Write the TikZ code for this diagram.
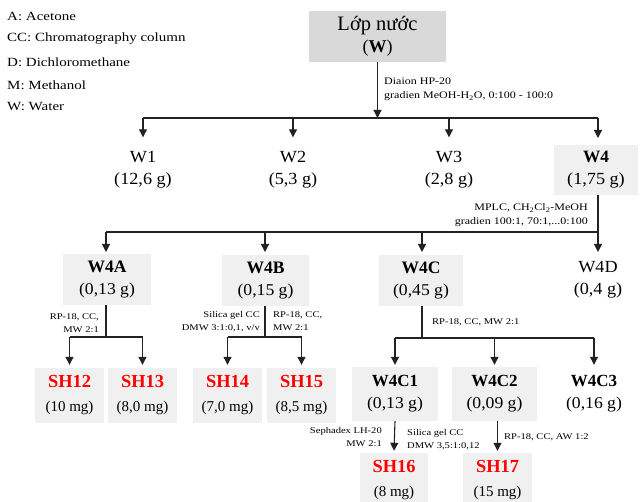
\documentclass[tikz,border=0pt]{standalone}
\usepackage{fontspec}
\setmainfont{Liberation Serif}[FakeStretch=1.2]
\newfontfamily\midf{Liberation Serif}[FakeStretch=1.07]
\newfontfamily\unf{Liberation Serif}
\usetikzlibrary{arrows.meta}
\definecolor{boxgray}{HTML}{F0F0F0}
\definecolor{topgray}{HTML}{D9D9D9}
\definecolor{linec}{HTML}{222222}
\newcommand{\hdA}[1]{{\unf\bfseries\fontsize{17.5}{22}\selectfont #1}}
\newcommand{\hdSH}[1]{{\unf\bfseries\fontsize{18.4}{24}\selectfont\color{red}#1}}
\begin{document}
\begin{tikzpicture}[x=1pt,y=-1pt,
  box/.style={fill=boxgray, inner sep=0pt, align=center, minimum width=#1, minimum height=51pt, font=\midf\fontsize{16.5}{22}\selectfont},
  box/.default=86pt,
  shbox/.style={fill=boxgray, inner sep=0pt, align=center, minimum width=69pt, minimum height=55pt, font=\unf\fontsize{15}{24}\selectfont},
  plain/.style={inner sep=0pt, align=center, minimum width=80pt, minimum height=51pt, font=\midf\fontsize{17}{22}\selectfont},
  lbl/.style={inner sep=0pt, font=\fontsize{10}{13}\selectfont},
  slbl/.style={inner sep=0pt, font=\fontsize{8.8}{13}\selectfont},
  leg/.style={inner sep=0pt, anchor=west, font=\fontsize{12.5}{15}\selectfont},
  ln/.style={draw=linec, line width=1.1pt},
  arr/.style={draw=linec, line width=1.1pt, -{Triangle[width=8pt,length=8pt]}}
]
\useasboundingbox (0,0) rectangle (640,502);
% legend
\node[leg] (l1) at (7,16) {A: Acetone};
\node[leg] (l2) at (7,39) {CC: Chromatography column};
\node[leg] (l3) at (7,62) {D: Dichloromethane};
\node[leg] (l4) at (7,85) {M: Methanol};
\node[leg] (l5) at (7,107) {W: Water};
% top
\node[fill=topgray, inner sep=0pt, align=center, minimum width=137pt, minimum height=51pt, font=\unf\fontsize{20.5}{22}\selectfont] (top) at (377.5,36.5) {Lớp nước\\[0pt]{\fontsize{18}{22}\selectfont(\textbf{W})}};
\coordinate (b1) at (377.5,118);
\draw[arr] (top.south) -- (b1);
\node[lbl, anchor=west, align=left] (lab1) at (384,89.5) {Diaion HP-20\\[1pt]gradien MeOH-H\textsubscript{2}O, 0:100 - 100:0};
% level 1
\node[plain] (W1) at (143,170) {W1\\(12,6 g)};
\node[plain] (W2) at (293,170) {W2\\(5,3 g)};
\node[plain] (W3) at (449,170) {W3\\(2,8 g)};
\node[box=84pt, minimum height=50pt, font=\midf\fontsize{17}{22}\selectfont] (W4) at (596,170) {{\unf\bfseries\fontsize{17.3}{22}\selectfont W4}\\(1,75 g)};
\draw[ln] (W1.center |- b1) -- (598,118);
\draw[arr] (W1.center |- b1) -- ([yshift=7pt]W1.north);
\draw[arr] (W2.center |- b1) -- ([yshift=7pt]W2.north);
\draw[arr] (W3.center |- b1) -- ([yshift=7pt]W3.north);
\coordinate (w4top) at (598,118);
\draw[arr] (w4top) -- (598,138);
% level 2
\coordinate (b2) at (598,232);
\draw[ln] ([xshift=2pt]W4.south) -- (b2);
\node[box=88pt] (W4A) at (107,279.5) {\hdA{W4A}\\(0,13 g)};
\node[box=87pt] (W4B) at (265.5,280.5) {\hdA{W4B}\\(0,15 g)};
\node[box=84pt] (W4C) at (421,280.5) {\hdA{W4C}\\(0,45 g)};
\node[plain] (W4D) at (598,279.5) {W4D\\(0,4 g)};
\node[lbl, anchor=east, align=right] (lab2) at (588,215) {MPLC, CH\textsubscript{2}Cl\textsubscript{2}-MeOH\\[0.5pt]gradien 100:1, 70:1,...0:100};
\draw[ln] (106,232) -- (b2);
\draw[arr] (106,232) -- (106,252);
\draw[arr] (265,232) -- (265,252);
\draw[arr] (422,232) -- (422,252);
\draw[arr] (b2) -- (598,252);
% W4A branch
\node[shbox] (SH12) at (69.5,395.5) {\hdSH{SH12}\\(10 mg)};
\node[shbox] (SH13) at (142.5,395.5) {\hdSH{SH13}\\(8,0 mg)};
\coordinate (ba) at (106,337);
\draw[ln] (W4A.south -| ba) -- (ba);
\draw[ln] (SH12.center |- ba) -- (SH13.center |- ba);
\draw[arr] (SH12.center |- ba) -- ([yshift=3pt]SH12.north);
\draw[arr] (SH13.center |- ba) -- ([yshift=3pt]SH13.north);
\node[slbl, anchor=east, align=right] (lab3) at (99,323.5) {RP-18, CC,\\MW 2:1};
% W4B branch
\node[shbox] (SH14) at (227.5,395.5) {\hdSH{SH14}\\(7,0 mg)};
\node[shbox] (SH15) at (301.5,395.5) {\hdSH{SH15}\\(8,5 mg)};
\coordinate (bb) at (265,337);
\draw[ln] (W4B.south -| bb) -- (bb);
\draw[ln] (SH14.center |- bb) -- (SH15.center |- bb);
\draw[arr] (SH14.center |- bb) -- ([yshift=3pt]SH14.north);
\draw[arr] (SH15.center |- bb) -- ([yshift=3pt]SH15.north);
\node[slbl, anchor=east, align=right] (lab4) at (260,321.5) {Silica gel CC\\DMW 3:1:0,1, v/v};
\node[slbl, anchor=west, align=left] (lab5) at (273,321.5) {RP-18, CC,\\MW 2:1};
% W4C branch
\node[box=86pt, minimum height=54pt] (W4C1) at (395,394) {{\unf\bfseries\fontsize{17}{22}\selectfont W4C1}\\(0,13 g)};
\node[box=85pt, minimum height=54pt] (W4C2) at (494.5,394) {{\unf\bfseries\fontsize{17}{22}\selectfont W4C2}\\(0,09 g)};
\node[plain, minimum height=54pt, font=\midf\fontsize{16.5}{22}\selectfont] (W4C3) at (594,394) {{\unf\bfseries\fontsize{17}{22}\selectfont W4C3}\\(0,16 g)};
\coordinate (bc) at (422,338);
\draw[ln] (W4C.south -| bc) -- (bc);
\draw[ln] (W4C1.center |- bc) -- (W4C3.center |- bc);
\draw[arr] (W4C1.center |- bc) -- ([yshift=2pt]W4C1.north);
\draw[arr] (W4C2.center |- bc) -- ([yshift=2pt]W4C2.north);
\draw[arr] (W4C3.center |- bc) -- ([yshift=2pt]W4C3.north);
\node[slbl, anchor=west] (lab6) at (432,322) {RP-18, CC, MW 2:1};
% last level
\node[shbox, minimum width=68pt] (SH16) at (394,480.5) {\hdSH{SH16}\\(8 mg)};
\node[shbox] (SH17) at (497.5,480.5) {\hdSH{SH17}\\(15 mg)};
\draw[arr] (W4C1.south) -- ([yshift=2pt]SH16.north);
\draw[arr] (W4C2.south -| SH17.north) -- ([yshift=2pt]SH17.north);
\node[slbl, anchor=east, align=right] (lab7) at (382,437.5) {Sephadex LH-20\\MW 2:1};
\node[slbl, anchor=west, align=left] (lab8) at (407,439.5) {Silica gel CC\\DMW 3,5:1:0,12};
\node[slbl, anchor=west] (lab9) at (504,437) {RP-18, CC, AW 1:2};
\end{tikzpicture}
\end{document}
